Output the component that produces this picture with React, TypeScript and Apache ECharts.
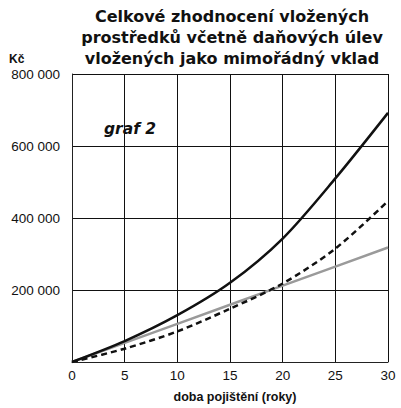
import React, { useEffect, useRef } from "react";
import * as echarts from "echarts";

const years = [0, 5, 10, 15, 20, 25, 30];
const solidValues = [0, 58000, 130000, 220000, 343000, 510000, 692000];
const grayValues = [0, 53000, 106000, 159000, 212000, 265000, 318000];
const dashedValues = [0, 37000, 85000, 148000, 218000, 315000, 447000];
const titleLines = [
  "Celkové zhodnocení vložených",
  "prostředků včetně daňových úlev",
  "vložených jako mimořádný vklad",
];
const yUnit = "Kč";
const xTitle = "doba pojištění (roky)";
const badge = "graf 2";

const fmt = (v: number) =>
  v === 0 ? "" : String(v).replace(/\B(?=(\d{3})+(?!\d))/g, " ");

export default function App() {
  const ref = useRef<HTMLDivElement>(null);
  useEffect(() => {
    if (!ref.current) return;
    const chart = echarts.init(ref.current, null, { renderer: "svg" });
    const pairs = (vals: number[]) => years.map((x, i) => [x, vals[i]]);
    chart.setOption({
      animation: false,
      backgroundColor: "#fff",
      grid: { left: 72, right: 13, top: 74, bottom: 46 },
      xAxis: {
        type: "value",
        min: 0,
        max: 30,
        interval: 5,
        axisLine: { show: true, lineStyle: { color: "#222", width: 1 } },
        axisTick: { show: false },
        axisLabel: {
          color: "#111",
          fontSize: 13.5,
          fontFamily: "Liberation Sans, Arial, sans-serif",
          margin: 6,
        },
        splitLine: { show: true, lineStyle: { color: "#111", width: 1 } },
      },
      yAxis: {
        type: "value",
        min: 0,
        max: 800000,
        interval: 200000,
        axisLine: { show: true, lineStyle: { color: "#222", width: 1 } },
        axisTick: { show: false },
        axisLabel: {
          color: "#111",
          fontSize: 13.5,
          fontFamily: "Liberation Sans, Arial, sans-serif",
          margin: 12,
          formatter: fmt,
        },
        splitLine: { show: true, lineStyle: { color: "#111", width: 1 } },
      },
      graphic: [
        ...titleLines.map((t, i) => ({
          type: "text",
          x: 232,
          y: 8 + i * 21,
          style: {
            text: t,
            fill: "#111",
            font: "bold 16px 'DejaVu Sans', sans-serif",
            textAlign: "center",
            textVerticalAlign: "top",
          },
        })),
        {
          type: "text",
          left: 9,
          top: 53,
          style: {
            text: yUnit,
            fill: "#111",
            font: "bold 12px 'Liberation Sans', Arial, sans-serif",
          },
        },
        {
          type: "text",
          left: 104,
          top: 121,
          style: {
            text: badge,
            fill: "#111",
            font: "italic bold 15.5px 'DejaVu Sans', sans-serif",
          },
        },
        {
          type: "text",
          x: 235,
          y: 397,
          style: {
            text: xTitle,
            fill: "#111",
            font: "bold 12.5px 'Liberation Sans', Arial, sans-serif",
            textAlign: "center",
            textVerticalAlign: "middle",
          },
        },
      ],
      series: [
        {
          type: "line",
          data: pairs(grayValues),
          showSymbol: false,
          lineStyle: { color: "#9a9a9a", width: 2.5 },
          z: 3,
        },
        {
          type: "line",
          data: pairs(dashedValues),
          smooth: 0.3,
          showSymbol: false,
          lineStyle: { color: "#111", width: 2.5, type: [6, 4] },
          z: 4,
        },
        {
          type: "line",
          data: pairs(solidValues),
          smooth: 0.3,
          showSymbol: false,
          lineStyle: { color: "#111", width: 2.5 },
          z: 5,
        },
      ],
    });
    return () => chart.dispose();
  }, []);
  return (
    <div
      ref={ref}
      style={{ width: 401, height: 408, position: "absolute", left: 0, top: 0 }}
    />
  );
}
